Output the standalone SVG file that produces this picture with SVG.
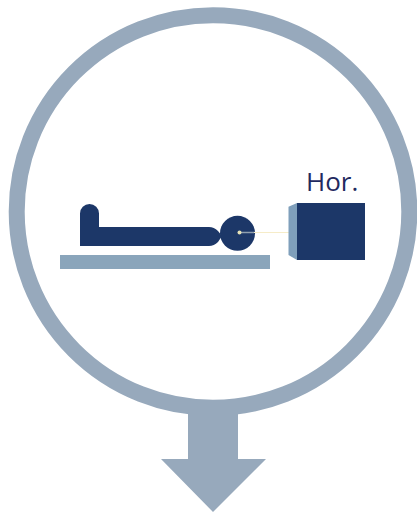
<svg xmlns="http://www.w3.org/2000/svg" width="417" height="515" viewBox="0 0 417 515">
  <style>
    .ring { fill: none; stroke: #97a9bc; stroke-width: 16; }
    .grey { fill: #97a9bc; }
    .navy { fill: #1c3768; }
    .label { font-family: "Open Sans", "Liberation Sans", sans-serif; font-size: 26px; fill: #1f2a60; }
  </style>
  <rect width="417" height="515" fill="#ffffff"/>
  <g id="lens">
    <circle class="ring" cx="213" cy="211.500" r="196.300"/>
  </g>
  <g id="connectors">
    <polygon class="grey" points="188,412 238,412 238,459 266,459 213,512 161,459 188,459"/>
  </g>
  <g id="table">
    <rect x="60" y="255" width="210" height="14" fill="#8aa5bb"/>
  </g>
  <g id="patient">
    <path class="navy" d="M80,246 V213.500 A9.500,9.500 0 0 1 99,213.500 V227 H209 Q214,227 218,231 L222,236 L218,242 Q214,246 209,246 Z"/>
    <circle class="navy" cx="237.500" cy="233.300" r="17.500"/>
    <line x1="240" y1="232.500" x2="254" y2="232.500" stroke="#8f9fae" stroke-width="1.500"/>
    <line x1="254" y1="232.500" x2="289" y2="232.500" stroke="#f6ecc8" stroke-width="1"/>
    <circle cx="239.500" cy="232.500" r="2" fill="#e6e2b8"/>
  </g>
  <g id="camera">
    <polygon points="288.500,206.700 297,203 297,260 288.500,255" fill="#7f9fbb"/>
    <rect class="navy" x="297" y="203" width="68" height="57"/>
    <text class="label" x="306" y="191">Hor.</text>
  </g>
</svg>
